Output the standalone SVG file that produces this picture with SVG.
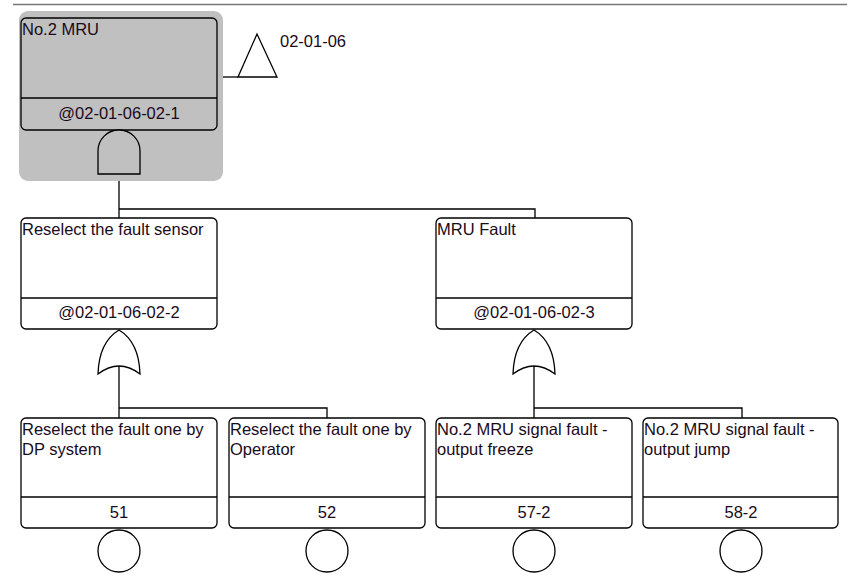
<svg xmlns="http://www.w3.org/2000/svg" width="847" height="577" viewBox="0 0 847 577">
<style>
.box{fill:#fff;stroke:#000;stroke-width:1.3}
.div{stroke:#000;stroke-width:1.3}
.ln{fill:none;stroke:#000;stroke-width:1.3}
.gate{fill:#fff;stroke:#000;stroke-width:1.3}
.t{font-family:"Liberation Sans",Arial,sans-serif;font-size:16.5px;fill:#1a0a1a}
.c{text-anchor:middle}
</style>
<rect x="0" y="0" width="847" height="577" fill="#fff"/>
<line x1="13" y1="4.5" x2="847" y2="4.5" stroke="#777" stroke-width="1.5"/>
<g id="connectors">
<path class="ln" d="M217,77 H238"/>
<path class="ln" d="M119,174 V209 H535 V218 M119,209 V218"/>
<path class="ln" d="M119,366 V408 H327 V418 M119,408 V418"/>
<path class="ln" d="M534,366 V408 H742 V418 M534,408 V418"/>
</g>
<g id="n1">
<rect x="19" y="11" width="204" height="170" rx="9" fill="#c0c0c0"/>
<rect x="21" y="18" width="196" height="112" rx="5" fill="#c0c0c0" stroke="#000" stroke-width="1.3"/>
<line class="div" x1="21" y1="98" x2="217" y2="98"/>
<text class="t" x="22" y="35">No.2 MRU</text>
<text class="t c" x="119" y="119">@02-01-06-02-1</text>
<path d="M98,174 V151 A21,21 0 0 1 140,151 V174 Z" fill="#c0c0c0" stroke="#000" stroke-width="1.3"/>
</g>
<g id="transfer">
<path class="gate" d="M238,77 L257,34 L277,77 Z"/>
<text class="t" x="280" y="47">02-01-06</text>
</g>
<g id="n2">
<rect class="box" x="21" y="218" width="196" height="111" rx="5"/>
<line class="div" x1="21" y1="298" x2="217" y2="298"/>
<text class="t" x="22" y="235">Reselect the fault sensor</text>
<text class="t c" x="119" y="318">@02-01-06-02-2</text>
<path class="gate" d="M98,374 Q99,342 119,330 Q139,342 140,374 Q119,358 98,374 Z"/>
</g>
<g id="n3">
<rect class="box" x="436" y="218" width="196" height="111" rx="5"/>
<line class="div" x1="436" y1="298" x2="632" y2="298"/>
<text class="t" x="437" y="235">MRU Fault</text>
<text class="t c" x="534" y="318">@02-01-06-02-3</text>
<path class="gate" d="M513,374 Q514,342 534,330 Q554,342 555,374 Q534,358 513,374 Z"/>
</g>
<g id="n4">
<rect class="box" x="21" y="418" width="196" height="110" rx="5"/>
<line class="div" x1="21" y1="497" x2="217" y2="497"/>
<text class="t" x="22" y="435">Reselect the fault one by</text>
<text class="t" x="22" y="455">DP system</text>
<text class="t c" x="119" y="518">51</text>
<circle class="gate" cx="119" cy="551" r="21"/>
</g>
<g id="n5">
<rect class="box" x="229" y="418" width="196" height="110" rx="5"/>
<line class="div" x1="229" y1="497" x2="425" y2="497"/>
<text class="t" x="230" y="435">Reselect the fault one by</text>
<text class="t" x="230" y="455">Operator</text>
<text class="t c" x="327" y="518">52</text>
<circle class="gate" cx="327" cy="551" r="21"/>
</g>
<g id="n6">
<rect class="box" x="436" y="418" width="196" height="110" rx="5"/>
<line class="div" x1="436" y1="497" x2="632" y2="497"/>
<text class="t" x="437" y="435">No.2 MRU signal fault -</text>
<text class="t" x="437" y="455">output freeze</text>
<text class="t c" x="534" y="518">57-2</text>
<circle class="gate" cx="534" cy="551" r="21"/>
</g>
<g id="n7">
<rect class="box" x="643" y="418" width="195" height="110" rx="5"/>
<line class="div" x1="643" y1="497" x2="838" y2="497"/>
<text class="t" x="644" y="435">No.2 MRU signal fault -</text>
<text class="t" x="644" y="455">output jump</text>
<text class="t c" x="741" y="518">58-2</text>
<circle class="gate" cx="741" cy="551" r="21"/>
</g>
</svg>
